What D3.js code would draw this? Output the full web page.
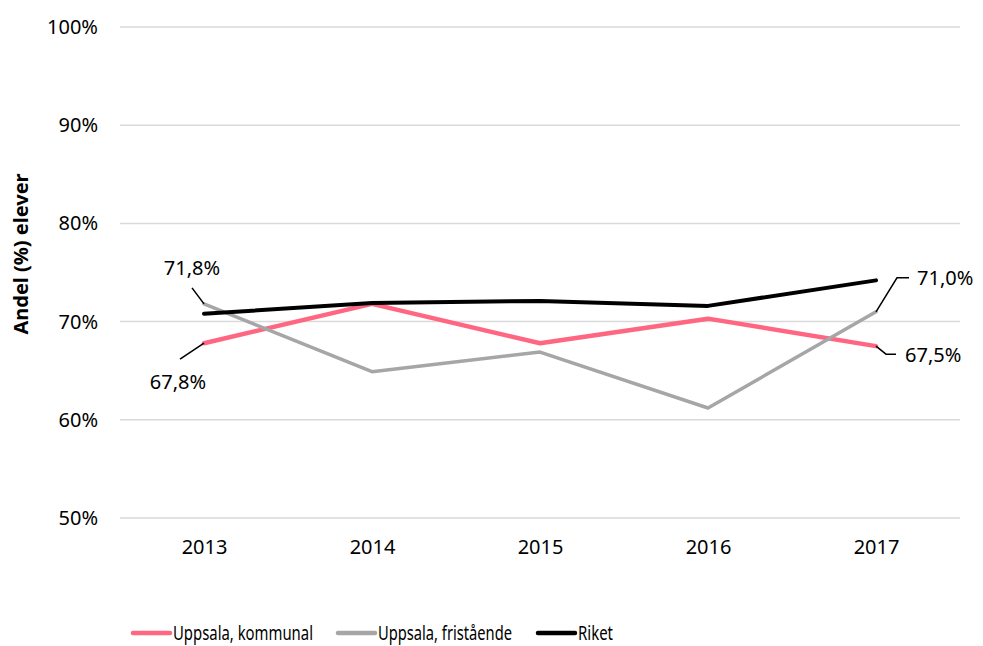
<!DOCTYPE html>
<html>
<head>
<meta charset="utf-8">
<script src="https://cdn.jsdelivr.net/npm/d3@7"></script>
<style>
  body { margin: 0; background: #fff; }
  text { font-family: "Noto Sans", sans-serif; fill: #000; }
</style>
</head>
<body>
<div id="chart-area"></div>
<script>
var years = ["2013", "2014", "2015", "2016", "2017"];
var kommunal = [67.8, 71.8, 67.8, 70.3, 67.5];
var fristaende = [71.8, 64.9, 66.9, 61.2, 71.0];
var riket = [70.8, 71.9, 72.1, 71.6, 74.2];
var yTicks = [50, 60, 70, 80, 90, 100];

var series = [
	{name: "Uppsala, kommunal", values: kommunal, color: "#FF6682", width: 4.5},
	{name: "Uppsala, fristående", values: fristaende, color: "#A6A6A6", width: 3.5},
	{name: "Riket", values: riket, color: "#000000", width: 4}
];

var W = 983, H = 646;
var margin = {top: 27, left: 120, bottom: 128, right: 23};
var width = W - margin.left - margin.right;
var height = H - margin.top - margin.bottom;

var svg = d3.select("#chart-area")
	.append("svg")
		.attr("width", W)
		.attr("height", H);

var g = svg.append("g")
	.attr("transform", "translate(" + margin.left + ", " + margin.top + ")");

var x = d3.scalePoint()
	.domain(years)
	.range([0, width])
	.padding(0.5);

var y = d3.scaleLinear()
	.domain([50, 100])
	.range([height, 0]);

	// gridlines
g.append("g")
	.selectAll("line")
	.data(yTicks)
	.enter().append("line")
		.attr("x1", 0)
		.attr("x2", width)
		.attr("y1", function(d){ return y(d); })
		.attr("y2", function(d){ return y(d); })
		.attr("stroke", "#D9D9D9")
		.attr("stroke-width", 1.5);

var yAxisCall = d3.axisLeft(y)
	.tickValues(yTicks)
	.tickSize(0)
	.tickPadding(22)
	.tickFormat(function(d){ return d + "%"; });
var yAxis = g.append("g").call(yAxisCall);
yAxis.select(".domain").remove();
yAxis.selectAll("text").attr("font-size", "20px").attr("font-family", "Noto Sans, sans-serif");

var xAxisCall = d3.axisBottom(x).tickSize(0).tickPadding(22);
var xAxis = g.append("g")
	.attr("transform", "translate(0, " + height + ")")
	.call(xAxisCall);
xAxis.select(".domain").remove();
xAxis.selectAll("text").attr("font-size", "20px").attr("font-family", "Noto Sans, sans-serif");

	// Y label
svg.append("text")
	.attr("transform", "translate(28, 254) rotate(-90)")
	.attr("text-anchor", "middle")
	.attr("font-size", "20px")
	.attr("font-weight", "bold")
	.text("Andel (%) elever");

var line = d3.line()
	.x(function(d, i){ return x(years[i]); })
	.y(function(d){ return y(d); });

g.selectAll(".series")
	.data(series)
	.enter().append("path")
		.attr("class", "series")
		.attr("d", function(s){ return line(s.values); })
		.attr("fill", "none")
		.attr("stroke", function(s){ return s.color; })
		.attr("stroke-width", function(s){ return s.width; })
		.attr("stroke-linejoin", "round")
		.attr("stroke-linecap", "round");

	// data labels with leader lines
function leader(px, py, pts, label, tx, ty, anchor){
	var path = d3.path();
	path.moveTo(px, py);
	pts.forEach(function(p){ path.lineTo(px + p[0], py + p[1]); });
	g.append("path")
		.attr("d", path.toString())
		.attr("fill", "none")
		.attr("stroke", "#000")
		.attr("stroke-width", 1.5);
	g.append("text")
		.attr("x", px + tx)
		.attr("y", py + ty)
		.attr("text-anchor", anchor)
		.attr("font-size", "20px")
		.text(label);
}
var fmt = function(v){ return v.toFixed(1).replace(".", ",") + "%"; };
var x0 = x(years[0]), x4 = x(years[4]);
leader(x0, y(fristaende[0]), [[-12, -16]], fmt(fristaende[0]), -12, -29, "middle");
leader(x0, y(kommunal[0]), [[-24, 16]], fmt(kommunal[0]), -26, 46, "middle");
leader(x4, y(fristaende[4]), [[21, -34], [33, -34]], fmt(fristaende[4]), 41, -27, "start");
leader(x4, y(kommunal[4]), [[10, 8], [20, 8]], fmt(kommunal[4]), 29, 16, "start");

	// legend
var legendX = [133, 338, 538];
var legendW = [140, 134, 35];
var legend = svg.append("g");
series.forEach(function(s, i){
	legend.append("line")
		.attr("x1", legendX[i])
		.attr("x2", legendX[i] + 37)
		.attr("y1", 633)
		.attr("y2", 633)
		.attr("stroke", s.color)
		.attr("stroke-width", 4.5)
		.attr("stroke-linecap", "round");
	legend.append("text")
		.attr("x", legendX[i] + 40)
		.attr("y", 640)
		.attr("font-size", "20px")
		.attr("textLength", legendW[i])
		.attr("lengthAdjust", "spacingAndGlyphs")
		.text(s.name);
});
</script>
</body>
</html>
